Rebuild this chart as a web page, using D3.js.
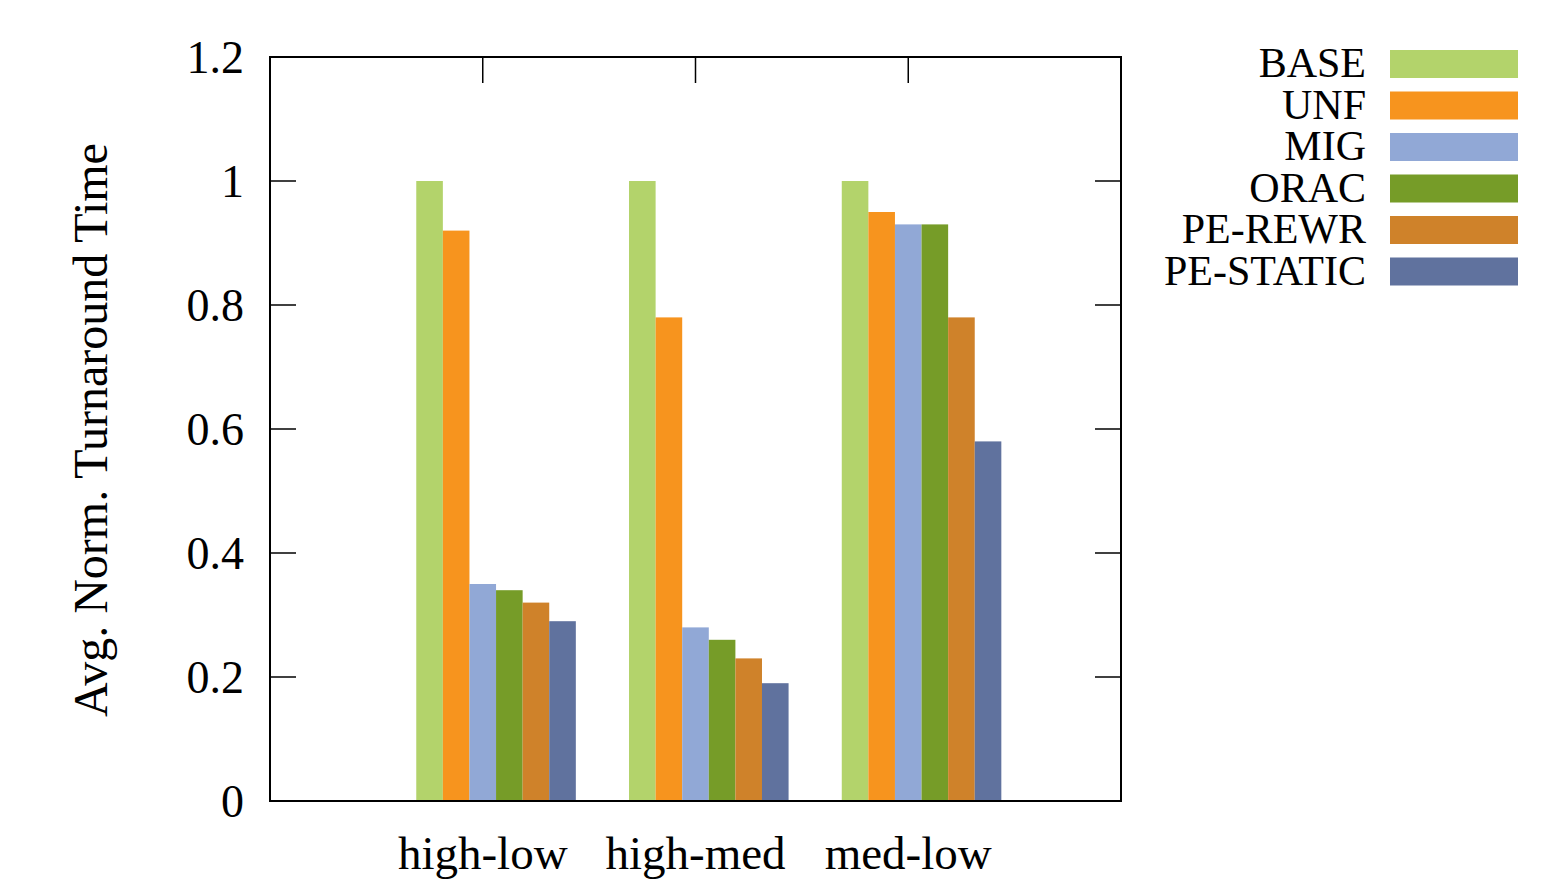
<!DOCTYPE html>
<html>
<head>
<meta charset="utf-8">
<script src="https://cdn.jsdelivr.net/npm/d3@7"></script>
<style>
  body { margin: 0; background: #fff; }
  text { font-family: "Liberation Serif", "Times New Roman", serif; fill: #000; }
</style>
</head>
<body>
<svg id="chart" width="1560" height="882"></svg>
<script>
var categories = ["high-low", "high-med", "med-low"];
var seriesNames = ["BASE", "UNF", "MIG", "ORAC", "PE-REWR", "PE-STATIC"];
var seriesColors = ["#b3d36b", "#f7941e", "#91a8d6", "#769c28", "#cf822a", "#60729e"];
// values[series][category]
var values = [
  [1.00, 1.00, 1.00],
  [0.92, 0.78, 0.95],
  [0.35, 0.28, 0.93],
  [0.34, 0.26, 0.93],
  [0.32, 0.23, 0.78],
  [0.29, 0.19, 0.58]
];
var yTicks = [0, 0.2, 0.4, 0.6, 0.8, 1, 1.2];

(function () {
    var svg = d3.select("#chart");
    var pLeft = 270, pRight = 1121, pTop = 57, pBottom = 801;
    var tickLen = 26;

    // gnuplot-style histogram: category i at x=i, range [-1, 3]
    var x = d3.scaleLinear().domain([-1, categories.length]).range([pLeft, pRight]);
    var y = d3.scaleLinear().domain([0, 1.2]).range([pBottom, pTop]);
    var bw = x(0.125) - x(0);

    // bars
    categories.forEach(function (c, ci) {
        values.forEach(function (vals, si) {
            var cx = x(ci) + (si - 2) * bw;
            svg.append("rect")
                .attr("x", cx - bw / 2)
                .attr("y", y(vals[ci]))
                .attr("width", bw)
                .attr("height", y(0) - y(vals[ci]))
                .attr("fill", seriesColors[si]);
        });
    });

    // y ticks, left and right (inward)
    yTicks.forEach(function (t) {
        if (t > 0 && t < 1.2) {
            svg.append("line").attr("x1", pLeft).attr("x2", pLeft + tickLen)
                .attr("y1", y(t)).attr("y2", y(t)).attr("stroke", "#000").attr("stroke-width", 1.5);
            svg.append("line").attr("x1", pRight).attr("x2", pRight - tickLen)
                .attr("y1", y(t)).attr("y2", y(t)).attr("stroke", "#000").attr("stroke-width", 1.5);
        }
        svg.append("text")
            .attr("x", 244)
            .attr("y", y(t) + 16)
            .attr("text-anchor", "end")
            .style("font-size", "46px")
            .text(t === 0 || t === 1 ? String(t) : t.toFixed(1));
    });

    // x ticks on top (mirror) + category labels
    categories.forEach(function (c, ci) {
        svg.append("line").attr("x1", x(ci)).attr("x2", x(ci))
            .attr("y1", pTop).attr("y2", pTop + tickLen).attr("stroke", "#000").attr("stroke-width", 1.5);
        svg.append("text")
            .attr("x", x(ci))
            .attr("y", 869)
            .attr("text-anchor", "middle")
            .style("font-size", "47px")
            .text(c);
    });

    // border
    svg.append("rect")
        .attr("x", pLeft).attr("y", pTop)
        .attr("width", pRight - pLeft).attr("height", pBottom - pTop)
        .attr("fill", "none").attr("stroke", "#000").attr("stroke-width", 2);

    // y label
    svg.append("text")
        .attr("transform", "translate(107,430) rotate(-90)")
        .attr("text-anchor", "middle")
        .style("font-size", "48px")
        .text("Avg. Norm. Turnaround Time");

    // legend
    var legY0 = 50, legStep = 41.5;
    seriesNames.forEach(function (n, i) {
        var ly = legY0 + i * legStep;
        svg.append("rect")
            .attr("x", 1390).attr("y", ly)
            .attr("width", 128).attr("height", 28)
            .attr("fill", seriesColors[i]);
        svg.append("text")
            .attr("x", 1366)
            .attr("y", ly + 27)
            .attr("text-anchor", "end")
            .style("font-size", "42px")
            .text(n);
    });
})();
</script>
</body>
</html>
